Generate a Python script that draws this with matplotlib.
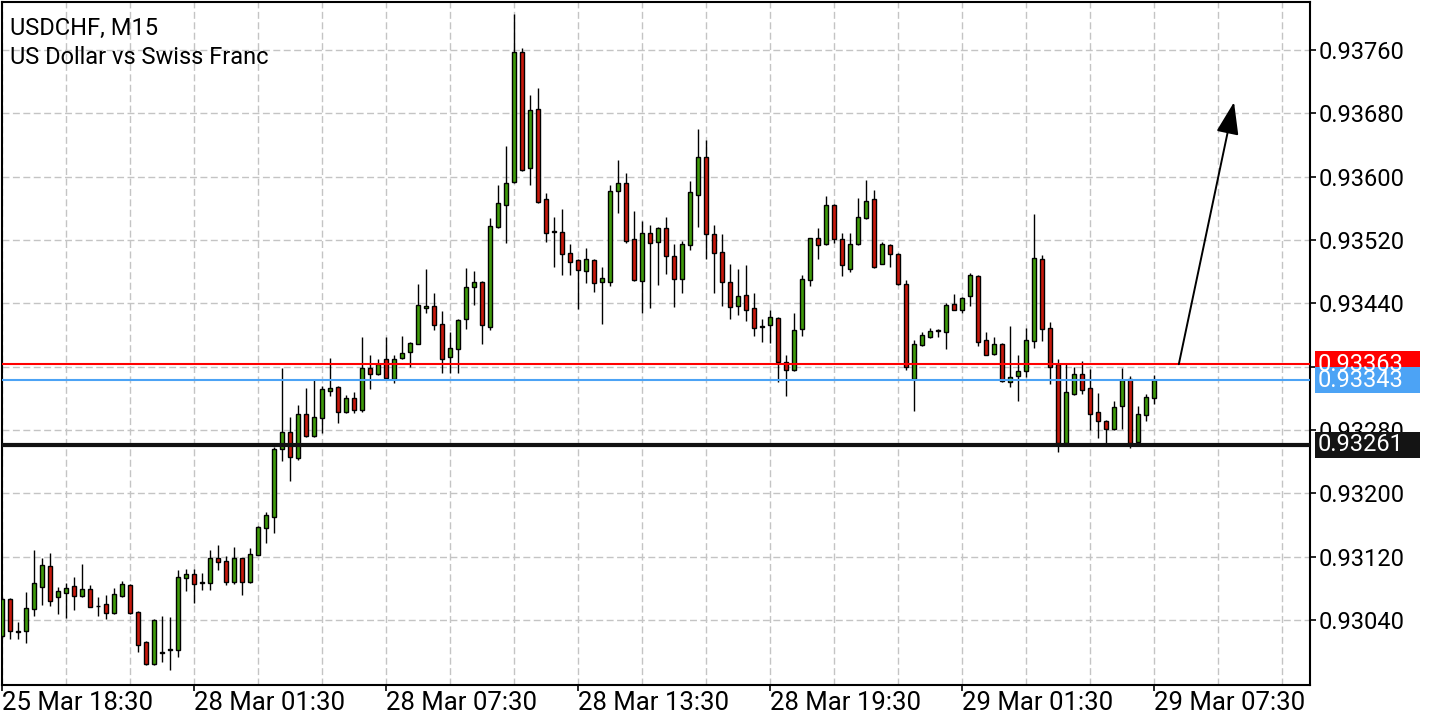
import matplotlib
matplotlib.use('Agg')
import matplotlib.pyplot as plt
import matplotlib.transforms as mtransforms
from matplotlib.patches import Rectangle
from matplotlib.ticker import FixedLocator, MultipleLocator, FormatStrFormatter
import numpy as np

plt.rcParams['font.family'] = ['Roboto', 'DejaVu Sans']

# USDCHF M15 candles
opens = [
    0.93020, 0.93066, 0.93026, 0.93026, 0.93054, 0.93082, 0.93108, 0.93069, 0.93074, 0.93083,
    0.93070, 0.93079, 0.93058, 0.93060, 0.93049, 0.93070, 0.93084, 0.93050, 0.93012, 0.92984,
    0.92999, 0.93002, 0.93002, 0.93093, 0.93098, 0.93088, 0.93087, 0.93118, 0.93115, 0.93088,
    0.93118, 0.93088, 0.93122, 0.93156, 0.93170, 0.93256, 0.93277, 0.93245, 0.93300, 0.93272,
    0.93295, 0.93329, 0.93334, 0.93303, 0.93320, 0.93305, 0.93358, 0.93351, 0.93370, 0.93344,
    0.93371, 0.93378, 0.93389, 0.93434, 0.93436, 0.93414, 0.93372, 0.93382, 0.93420, 0.93461,
    0.93467, 0.93410, 0.93536, 0.93564, 0.93593, 0.93757, 0.93611, 0.93685, 0.93572, 0.93531,
    0.93530, 0.93503, 0.93495, 0.93481, 0.93495, 0.93467, 0.93467, 0.93582, 0.93592, 0.93521,
    0.93468, 0.93529, 0.93517, 0.93535, 0.93500, 0.93471, 0.93514, 0.93577, 0.93625, 0.93528,
    0.93505, 0.93467, 0.93437, 0.93450, 0.93434, 0.93410, 0.93413, 0.93421, 0.93366, 0.93356,
    0.93408, 0.93469, 0.93522, 0.93515, 0.93564, 0.93521, 0.93483, 0.93515, 0.93548, 0.93572,
    0.93490, 0.93514, 0.93502, 0.93464, 0.93344, 0.93387, 0.93397, 0.93405, 0.93404, 0.93439,
    0.93432, 0.93449, 0.93474, 0.93394, 0.93376, 0.93389, 0.93341, 0.93348, 0.93354, 0.93392,
    0.93496, 0.93409, 0.93363, 0.93264, 0.93325, 0.93351, 0.93333, 0.93303, 0.93291, 0.93281,
    0.93310, 0.93344, 0.93265, 0.93299, 0.93320,
]
highs = [
    0.93069, 0.93068, 0.93037, 0.93075, 0.93128, 0.93118, 0.93125, 0.93082, 0.93087, 0.93094,
    0.93111, 0.93084, 0.93069, 0.93071, 0.93080, 0.93089, 0.93085, 0.93051, 0.93013, 0.93041,
    0.93045, 0.93044, 0.93103, 0.93104, 0.93104, 0.93099, 0.93128, 0.93135, 0.93121, 0.93132,
    0.93118, 0.93131, 0.93159, 0.93176, 0.93258, 0.93358, 0.93296, 0.93312, 0.93333, 0.93344,
    0.93335, 0.93371, 0.93335, 0.93324, 0.93328, 0.93397, 0.93375, 0.93370, 0.93397, 0.93375,
    0.93399, 0.93391, 0.93464, 0.93483, 0.93453, 0.93430, 0.93404, 0.93420, 0.93485, 0.93481,
    0.93468, 0.93548, 0.93589, 0.93639, 0.93805, 0.93762, 0.93703, 0.93712, 0.93579, 0.93549,
    0.93559, 0.93515, 0.93496, 0.93510, 0.93496, 0.93486, 0.93589, 0.93621, 0.93605, 0.93557,
    0.93544, 0.93539, 0.93536, 0.93549, 0.93515, 0.93519, 0.93594, 0.93660, 0.93646, 0.93539,
    0.93528, 0.93490, 0.93483, 0.93488, 0.93453, 0.93420, 0.93432, 0.93423, 0.93375, 0.93428,
    0.93476, 0.93523, 0.93535, 0.93576, 0.93565, 0.93529, 0.93529, 0.93573, 0.93596, 0.93583,
    0.93517, 0.93515, 0.93503, 0.93469, 0.93394, 0.93404, 0.93409, 0.93407, 0.93440, 0.93452,
    0.93448, 0.93478, 0.93476, 0.93404, 0.93397, 0.93390, 0.93411, 0.93375, 0.93409, 0.93553,
    0.93501, 0.93416, 0.93370, 0.93365, 0.93360, 0.93367, 0.93357, 0.93327, 0.93292, 0.93317,
    0.93358, 0.93348, 0.93310, 0.93325, 0.93349,
]
lows = [
    0.93017, 0.93016, 0.93016, 0.93011, 0.93045, 0.93059, 0.93058, 0.93048, 0.93042, 0.93053,
    0.93069, 0.93056, 0.93045, 0.93041, 0.93048, 0.93069, 0.93048, 0.92999, 0.92983, 0.92983,
    0.92987, 0.92977, 0.92993, 0.93077, 0.93061, 0.93078, 0.93078, 0.93103, 0.93084, 0.93085,
    0.93071, 0.93087, 0.93122, 0.93137, 0.93150, 0.93241, 0.93216, 0.93242, 0.93271, 0.93271,
    0.93276, 0.93323, 0.93289, 0.93301, 0.93301, 0.93303, 0.93332, 0.93349, 0.93345, 0.93339,
    0.93370, 0.93360, 0.93388, 0.93428, 0.93406, 0.93352, 0.93352, 0.93352, 0.93408, 0.93438,
    0.93389, 0.93406, 0.93535, 0.93516, 0.93592, 0.93607, 0.93589, 0.93567, 0.93517, 0.93486,
    0.93476, 0.93476, 0.93433, 0.93466, 0.93454, 0.93414, 0.93462, 0.93554, 0.93516, 0.93468,
    0.93428, 0.93434, 0.93463, 0.93477, 0.93435, 0.93453, 0.93507, 0.93536, 0.93496, 0.93453,
    0.93437, 0.93420, 0.93425, 0.93418, 0.93399, 0.93391, 0.93390, 0.93341, 0.93323, 0.93355,
    0.93399, 0.93462, 0.93496, 0.93514, 0.93516, 0.93474, 0.93480, 0.93514, 0.93547, 0.93485,
    0.93489, 0.93486, 0.93463, 0.93356, 0.93304, 0.93386, 0.93396, 0.93397, 0.93382, 0.93431,
    0.93428, 0.93437, 0.93386, 0.93374, 0.93375, 0.93341, 0.93334, 0.93317, 0.93347, 0.93384,
    0.93392, 0.93338, 0.93252, 0.93263, 0.93324, 0.93325, 0.93280, 0.93270, 0.93264, 0.93280,
    0.93281, 0.93257, 0.93264, 0.93291, 0.93313,
]
closes = [
    0.93066, 0.93026, 0.93025, 0.93055, 0.93087, 0.93109, 0.93064, 0.93077, 0.93080, 0.93070,
    0.93079, 0.93056, 0.93057, 0.93049, 0.93073, 0.93085, 0.93049, 0.93008, 0.92984, 0.93040,
    0.92998, 0.93003, 0.93094, 0.93098, 0.93085, 0.93087, 0.93118, 0.93113, 0.93088, 0.93118,
    0.93088, 0.93123, 0.93157, 0.93173, 0.93256, 0.93277, 0.93246, 0.93300, 0.93272, 0.93296,
    0.93332, 0.93333, 0.93303, 0.93320, 0.93305, 0.93358, 0.93351, 0.93363, 0.93346, 0.93370,
    0.93377, 0.93390, 0.93438, 0.93437, 0.93413, 0.93370, 0.93384, 0.93419, 0.93461, 0.93467,
    0.93413, 0.93538, 0.93567, 0.93592, 0.93757, 0.93608, 0.93684, 0.93568, 0.93529, 0.93530,
    0.93502, 0.93492, 0.93482, 0.93496, 0.93466, 0.93472, 0.93582, 0.93592, 0.93519, 0.93469,
    0.93529, 0.93516, 0.93535, 0.93500, 0.93471, 0.93515, 0.93581, 0.93625, 0.93528, 0.93503,
    0.93467, 0.93435, 0.93449, 0.93432, 0.93409, 0.93411, 0.93423, 0.93366, 0.93356, 0.93406,
    0.93471, 0.93522, 0.93514, 0.93564, 0.93521, 0.93488, 0.93515, 0.93549, 0.93569, 0.93486,
    0.93515, 0.93502, 0.93464, 0.93360, 0.93389, 0.93400, 0.93405, 0.93406, 0.93438, 0.93432,
    0.93447, 0.93476, 0.93391, 0.93375, 0.93389, 0.93342, 0.93347, 0.93354, 0.93394, 0.93497,
    0.93408, 0.93360, 0.93264, 0.93328, 0.93351, 0.93330, 0.93300, 0.93291, 0.93281, 0.93309,
    0.93343, 0.93264, 0.93300, 0.93322, 0.93343,
]

time_labels = ['25 Mar 18:30', '28 Mar 01:30', '28 Mar 07:30', '28 Mar 13:30',
               '28 Mar 19:30', '29 Mar 01:30', '29 Mar 07:30']
time_label_pos = [0, 24, 48, 72, 96, 120, 144]
price_ticks = [0.93040, 0.93120, 0.93200, 0.93280, 0.93360, 0.93440,
               0.93520, 0.93600, 0.93680, 0.93760]

resistance = 0.93363
bid = 0.93343
support = 0.93261
arrow_from = (147.1, 0.93363)
arrow_to = (154.0, 0.93694)

GREEN = '#3f9b0b'
RED = '#c8180c'
BLUE = '#4ca3f5'

fig = plt.figure(figsize=(14.4, 7.2), dpi=100)
ax = fig.add_axes([2 / 1440, 1 - 685 / 720, 1308 / 1440, 683 / 720])

o = np.array(opens)
h = np.array(highs)
l = np.array(lows)
c = np.array(closes)
x = np.arange(len(o))
colors = np.where(c >= o, GREEN, RED)

ax.vlines(x, l, h, color='black', lw=1.0, zorder=3)
body = np.maximum(np.abs(c - o), 0.000005)
ax.bar(x, body, bottom=np.minimum(o, c), width=0.5, color=colors,
       edgecolor='black', linewidth=1.0, zorder=4)

ax.axhline(resistance, color='#ff0000', lw=1.5, zorder=5)
ax.axhline(bid, color=BLUE, lw=1.5, zorder=5)
ax.axhline(support, color='#111111', lw=3.0, zorder=5)

ax.annotate('', xy=arrow_to, xytext=arrow_from,
            arrowprops=dict(arrowstyle='-|>,head_length=1.0,head_width=0.35',
                            color='black', lw=1.4, mutation_scale=20,
                            shrinkA=0, shrinkB=0), zorder=6)

ax.set_xlim(-0.02, 163.5)
ax.set_ylim(0.929578, 0.938205)

# grid and axes
ax.xaxis.set_major_locator(FixedLocator(time_label_pos))
ax.xaxis.set_minor_locator(MultipleLocator(8))
ax.set_xticklabels(time_labels)
for lbl in ax.get_xticklabels():
    lbl.set_ha('left')
ax.yaxis.tick_right()
ax.yaxis.set_major_locator(FixedLocator(price_ticks))
ax.yaxis.set_major_formatter(FormatStrFormatter('%.5f'))

ax.set_axisbelow(True)
ax.grid(True, which='both', axis='x', color='#c4c4c4', lw=1.0, linestyle=(0, (5, 2.5)))
ax.grid(True, which='major', axis='y', color='#c4c4c4', lw=1.0, linestyle=(0, (5, 2.5)))

ax.tick_params(axis='x', which='major', length=4, width=1.2, labelsize=18.5, pad=0)
ax.tick_params(axis='x', which='minor', length=0)
ax.tick_params(axis='y', length=4, width=1.2, labelsize=17, pad=2)
for sp in ax.spines.values():
    sp.set_linewidth(1.5)
    sp.set_color('black')

# price labels on the right axis
trans = mtransforms.blended_transform_factory(ax.transAxes, ax.transData)
box_h = 0.00033
for price, fc in [(resistance, '#ff0000'), (bid, BLUE), (support, '#141414')]:
    ax.add_patch(Rectangle((1.0038, price - box_h / 2), 0.0803, box_h, transform=trans,
                           facecolor=fc, edgecolor='none', clip_on=False, zorder=10))
    ax.text(1.0061, price, f'{price:.5f}', transform=trans, color='white', fontsize=17,
            ha='left', va='center', clip_on=False, zorder=11)

fig.text(10 / 1440, 1 - 35 / 720, 'USDCHF, M15', fontsize=17, va='baseline', ha='left')
fig.text(10 / 1440, 1 - 64 / 720, 'US Dollar vs Swiss Franc', fontsize=17,
         va='baseline', ha='left')

fig.savefig('out.png', dpi=100)
